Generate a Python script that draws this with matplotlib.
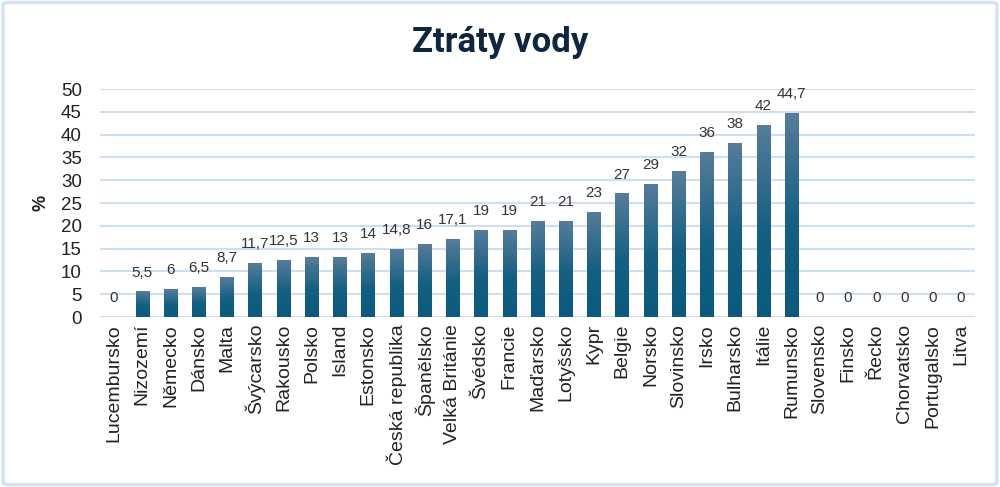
import numpy as np
import matplotlib
matplotlib.use("Agg")
import matplotlib.pyplot as plt
from matplotlib.colors import LinearSegmentedColormap
from matplotlib.patches import FancyBboxPatch

countries = ["Lucembursko", "Nizozemí", "Německo", "Dánsko", "Malta", "Švýcarsko",
             "Rakousko", "Polsko", "Island", "Estonsko", "Česká republika", "Španělsko",
             "Velká Británie", "Švédsko", "Francie", "Maďarsko", "Lotyšsko", "Kypr",
             "Belgie", "Norsko", "Slovinsko", "Irsko", "Bulharsko", "Itálie", "Rumunsko",
             "Slovensko", "Finsko", "Řecko", "Chorvatsko", "Portugalsko", "Litva"]
losses = [0, 5.5, 6, 6.5, 8.7, 11.7, 12.5, 13, 13, 14, 14.8, 16, 17.1, 19, 19,
          21, 21, 23, 27, 29, 32, 36, 38, 42, 44.7, 0, 0, 0, 0, 0, 0]
yticks = list(range(0, 51, 5))

plt.rcParams['font.family'] = ['Liberation Sans', 'DejaVu Sans']

fig = plt.figure(figsize=(10, 4.87), dpi=100)
ax = fig.add_axes([0.1, 0.349, 0.875, 0.468])

# figure border
fig.patches.append(FancyBboxPatch((0.003, 0.005), 0.994, 0.99,
                                  boxstyle="round,pad=0,rounding_size=0.005",
                                  transform=fig.transFigure, fill=False,
                                  edgecolor="#d4e2f2", linewidth=2.5))

cmap = LinearSegmentedColormap.from_list(
    "bar", [(0, "#0b5a7d"), (0.45, "#145f82"), (1, "#577c9a")])
grad = np.linspace(0, 1, 256).reshape(-1, 1)

x = np.arange(len(countries))
width = 0.48
bars = ax.bar(x, losses, width=width, color="none", zorder=3)
for b, v in zip(bars, losses):
    if v > 0:
        ax.imshow(grad, cmap=cmap, origin="lower", aspect="auto", zorder=3,
                  extent=[b.get_x(), b.get_x() + width, 0, v])
    lbl = f"{v:g}".replace(".", ",")
    ax.annotate(lbl, (b.get_x() + width / 2, v), xytext=(0, 14),
                textcoords="offset points", ha="center", va="center",
                fontsize=11, color="#333333")

ax.set_xlim(-0.5, len(countries) - 0.5)
ax.set_ylim(0, 50)
ax.set_yticks(yticks)
ax.set_xticks(x)
ax.set_xticklabels(countries, rotation=90, fontsize=14, color="#222222")
ax.tick_params(axis="y", labelsize=13.5, colors="#222222", length=0, pad=13)
ax.tick_params(axis="x", length=0, pad=5)
ax.grid(axis="y", color="#d0dff0", linewidth=1.5, zorder=0)
for s in ax.spines.values():
    s.set_visible(False)
ax.set_ylabel("%", fontsize=13, fontweight="bold", color="#222222", labelpad=8)

fig.text(0.5, 0.912, "Ztráty vody", ha="center", va="center",
         fontsize=25, fontweight="bold", color="#10263f", family="Roboto")

fig.savefig("out.png", dpi=100)
